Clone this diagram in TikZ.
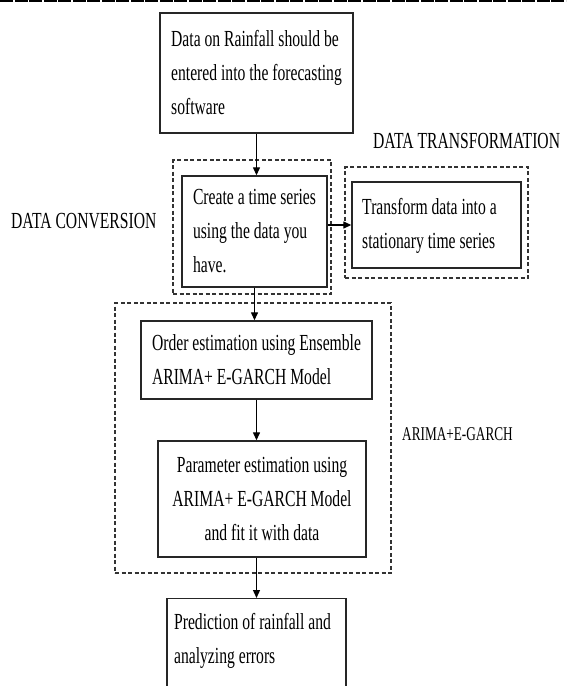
\documentclass[tikz,border=0pt]{standalone}
\usepackage{fontspec}
\setmainfont{Liberation Serif}[FakeStretch=0.68]
\usetikzlibrary{arrows.meta}
\begin{document}
\begin{tikzpicture}[x=1pt,y=1pt,
  box/.style={draw=black!85, line width=1.4pt, rectangle, inner xsep=0pt, inner ysep=0pt, font=\fontsize{23}{34}\selectfont},
  grp/.style={draw=black!80, line width=1.2pt, dash pattern=on 4pt off 2.5pt, rectangle, inner sep=0pt},
  lbl/.style={inner sep=0pt, font=\fontsize{23}{34}\selectfont},
  arr/.style={line width=1.3pt, -{Triangle[length=8pt,width=7pt]}}]
\useasboundingbox (0,0) rectangle (566,-686);
\clip (0,0) rectangle (566,-686);
% header rule
\draw[line width=2.5pt, dash pattern=on 13pt off 1.5pt] (0,-0.5) -- (566,-0.5);
% groups
\node[grp, minimum width=158pt, minimum height=134pt] (gdc) at (252,-227) {};
\node[grp, minimum width=183pt, minimum height=111pt] (gdt) at (436.5,-222.5) {};
\node[grp, minimum width=276pt, minimum height=270pt] (gam) at (253,-438) {};
% boxes
\node[box, minimum width=193pt, minimum height=120pt, align=left] (b1) at (256.5,-73)
  {Data on Rainfall should be\\entered into the forecasting\\software};
\node[box, minimum width=145pt, minimum height=111pt, align=left] (b2) at (254.5,-231.5)
  {Create a time series\\using the data you\\have.};
\node[box, minimum width=169pt, minimum height=86pt] (b3) at (436.5,-225)
  {\begin{tabular}{@{}l@{\hspace{14pt}}}Transform data into a\\stationary time series\end{tabular}};
\node[box, minimum width=231pt, minimum height=78pt, align=left] (b4) at (256.5,-360)
  {Order estimation using Ensemble\\ARIMA+ E-GARCH Model};
\node[box, minimum width=208pt, minimum height=116pt, align=center] (b5) at (262,-499)
  {Parameter estimation using\\ARIMA+ E-GARCH Model\\and fit it with data};
\node[box, anchor=north, minimum width=179pt, inner ysep=7pt, text depth=110pt] (b6) at (256.5,-598)
  {\begin{tabular}[t]{@{}l@{\hspace{8pt}}}Prediction of rainfall and\\analyzing errors\end{tabular}};
% labels
\node[lbl, anchor=base west] (ldt) at (373,-148) {DATA TRANSFORMATION};
\node[lbl, anchor=base west] (ldc) at (11,-228) {DATA CONVERSION};
\node[lbl, anchor=base west, font=\fontsize{19.5}{24}\selectfont] (lam) at (402,-440) {ARIMA+E-GARCH};
% connectors
\draw[arr] (b1.south) -- (b1.south |- b2.north);
\draw[arr] (b2.east |- b3.west) -- (b3.west);
\draw[arr] (b2.south) -- (b2.south |- b4.north);
\draw[arr] (b4.south) -- (b4.south |- b5.north);
\draw[arr] (b4.south |- b5.south) -- (b4.south |- b6.north);
\end{tikzpicture}
\end{document}
